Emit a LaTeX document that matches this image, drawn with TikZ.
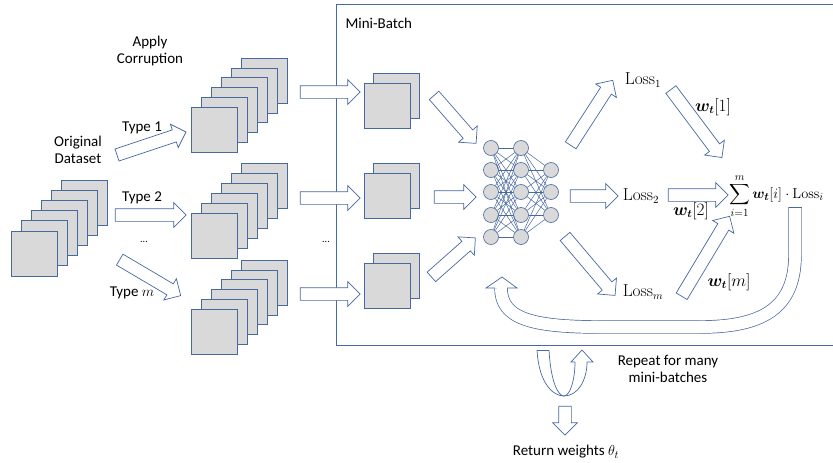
\documentclass[tikz,border=0pt]{standalone}
\usepackage{amsmath}
\usepackage{bm}
\usepackage[no-math]{fontspec}
\setmainfont{Carlito}
\usetikzlibrary{positioning, calc, shapes.arrows}
\definecolor{edgeblue}{RGB}{72,104,160}
\definecolor{slidegray}{RGB}{217,217,217}

% block arrow from one named point to another
\newcommand{\blockarrow}[3][]{%
    \path let \p1=($(#3)-(#2)$), \n1={atan2(\y1,\x1)}, \n2={veclen(\x1,\y1)} in
        node[block_arrow, minimum height=\n2, rotate=\n1, #1] at ($(#2)!0.5!(#3)$) {};}

\begin{document}
\begin{tikzpicture}
    [
        x=1pt, y=-1pt, font=\fontsize{15}{17}\selectfont,
        slide/.style={draw=edgeblue, fill=slidegray, line width=0.8pt, minimum width=46, minimum height=45, inner sep=0},
        neuron/.style={circle, draw=edgeblue, fill=slidegray, line width=0.6pt, minimum size=15, inner sep=0},
        link/.style={draw=edgeblue, line width=0.5pt},
        math_label/.style={font=\fontsize{16}{18}\selectfont, inner sep=1pt},
        block_arrow/.style={single arrow, draw=edgeblue, fill=white, line width=0.7pt, inner xsep=0, inner ysep=6, single arrow head extend=6, single arrow tip angle=90},
        bent_arrow/.style={draw=edgeblue, line width=0.7pt, double=white, double distance=12pt},
        arrow_line/.style={draw=edgeblue, line width=0.7pt},
    ]
        \useasboundingbox (0,0) rectangle (833,463);
        % mini-batch frame
        \draw[edgeblue, line width=0.8pt] (336,4) rectangle (840,345);
        \node[anchor=west] (mbtitle) at (342,23) {Mini-Batch};
        % original dataset
        \foreach \i in {0,...,5}
            \node[slide] (orig-\i) at ({84-10*\i},{202.5+10.2*\i}) {};
        \node[align=center] (origtext) at (78,150) {Original\\Dataset};
        \node[align=center] (corrtext) at (150,51) {Apply\\Corruption};
        % corrupted copies
        \foreach \s/\y in {1/80.5, 2/186, 3/282.5}
            \foreach \i in {0,...,5}
                \node[slide] (c\s-\i) at ({264.5-10*\i},{\y+9.9*\i}) {};
        % mini-batch samples
        \foreach \s/\y in {1/95.5, 2/185.5, 3/275.5} {
            \node[slide] (mb\s-b) at (396.5,\y) {};
            \node[slide] (mb\s-f) at (387.5,{\y+10.5}) {};
        }
        \node[font=\fontsize{10}{11}\selectfont] (dots1) at (144,242) {...};
        \node[font=\fontsize{10}{11}\selectfont] (dots2) at (326,242) {...};
        % network
        \foreach \j/\y in {1/148, 2/170, 3/192, 4/215, 5/237} {
            \node[neuron] (na-\j) at (491,\y) {};
            \node[neuron] (nb-\j) at (521,\y) {};
        }
        \foreach \j/\y in {1/170, 2/192, 3/215}
            \node[neuron] (nc-\j) at (551,\y) {};
        \foreach \a in {1,...,5} {
            \foreach \b in {1,...,5}
                \draw[link] (na-\a) -- (nb-\b);
            \foreach \b in {1,...,3}
                \draw[link] (nb-\a) -- (nc-\b);
        }
        % losses
        \node[math_label] (loss1) at (643,80) {$\mathrm{Loss}_1$};
        \node[math_label] (loss2) at (641,196) {$\mathrm{Loss}_2$};
        \node[math_label] (lossm) at (643,292) {$\mathrm{Loss}_m$};
        \node[math_label, font=\fontsize{15}{17}\selectfont, inner sep=0, anchor=west] (sum) at (729,196) {$\displaystyle\sum_{i=1}^{m}\bm{w_t}[i]\cdot\mathrm{Loss}_i$};
        \node[math_label] (w1) at (713,107) {$\bm{w_t}[1]$};
        \node[math_label] (w2) at (691,211) {$\bm{w_t}[2]$};
        \node[math_label] (wm) at (729,282) {$\bm{w_t}[m]$};
        \node (type1) at (142,128) {Type 1};
        \node (type2) at (142,198) {Type 2};
        \node (typem) at (132,293) {Type $m$};
        \node[align=center] (repeat) at (668,369) {Repeat for many\\mini-batches};
        \node (return) at (566,452) {Return weights $\theta_t$};
        % arrow end points
        \coordinate (t1s) at (114,156); \coordinate (t1e) at (183,133);
        \coordinate (t2s) at (112,215); \coordinate (t2e) at (183,215);
        \coordinate (tms) at (117,258); \coordinate (tme) at (178,294);
        \coordinate (b1s) at (297,92);  \coordinate (b1e) at (357,92);
        \coordinate (b2s) at (297,198); \coordinate (b2e) at (357,198);
        \coordinate (b3s) at (297,294); \coordinate (b3e) at (357,294);
        \coordinate (n1s) at (432,93);  \coordinate (n1e) at (474,141);
        \coordinate (n2s) at (431,197); \coordinate (n2e) at (473,197);
        \coordinate (n3s) at (429,279); \coordinate (n3e) at (473,240);
        \coordinate (l1s) at (569,148); \coordinate (l1e) at (611,83);
        \coordinate (l2s) at (567,196); \coordinate (l2e) at (615,196);
        \coordinate (l3s) at (563,234); \coordinate (l3e) at (613,293);
        \coordinate (w1s) at (669,87);  \coordinate (w1e) at (720,155);
        \coordinate (w2s) at (665,195); \coordinate (w2e) at (725,195);
        \coordinate (w3s) at (680,299); \coordinate (w3e) at (728,219);
        \coordinate (rs) at (565,403);  \coordinate (re) at (565,432);
        \blockarrow{t1s}{t1e}
        \blockarrow{t2s}{t2e}
        \blockarrow{tms}{tme}
        \blockarrow{b1s}{b1e}
        \blockarrow{b2s}{b2e}
        \blockarrow{b3s}{b3e}
        \blockarrow{n1s}{n1e}
        \blockarrow{n2s}{n2e}
        \blockarrow{n3s}{n3e}
        \blockarrow{l1s}{l1e}
        \blockarrow{l2s}{l2e}
        \blockarrow{l3s}{l3e}
        \blockarrow{w1s}{w1e}
        \blockarrow{w2s}{w2e}
        \blockarrow{w3s}{w3e}
        \blockarrow{rs}{re}
        % loop back to the network
        \coordinate (loopa) at (795,207);
        \coordinate (loopb) at (501,288);
        \draw[bent_arrow] (loopa) -- (795,255) .. controls (795,310) and (760,327) .. (700,327)
            -- (600,327) .. controls (530,327) and (501,318) .. (loopb);
        \draw[arrow_line] (788.5,207) -- (801.5,207);
        \fill[white] (486,288) -- (502,277) -- (517,288) -- cycle;
        \draw[arrow_line] (495,288) -- (486,288) -- (502,277) -- (517,288) -- (507,288);
        % repeat turn
        \draw[arrow_line] (537,350) -- (549,350);
        \draw[arrow_line] (537,350) .. controls (539,385) and (554,396) .. (564,396)
            .. controls (578,396) and (587,380) .. (587,362);
        \draw[arrow_line] (549,350) .. controls (551,385) and (559,396) .. (564,396)
            .. controls (570,396) and (575,380) .. (575,362);
        \draw[arrow_line] (575,362) -- (571,362) -- (582,350) -- (593,362) -- (587,362);
\end{tikzpicture}
\end{document}
